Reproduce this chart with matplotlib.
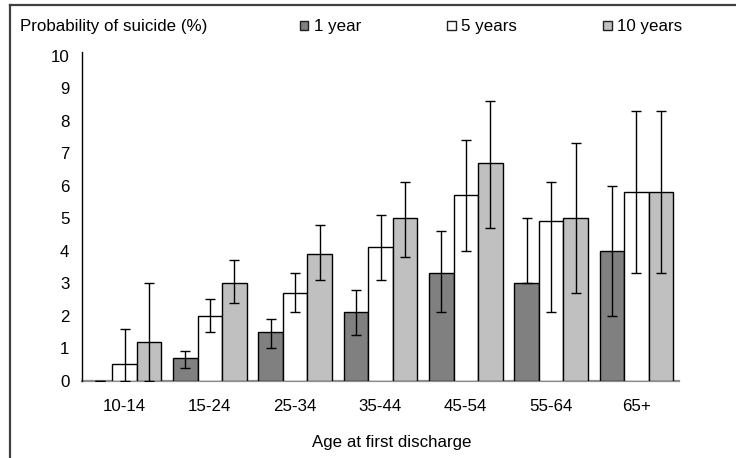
import matplotlib
matplotlib.use("Agg")
import matplotlib.pyplot as plt
from matplotlib.lines import Line2D
from matplotlib.patches import Patch
import numpy as np

plt.rcParams["font.family"] = ["Liberation Sans", "DejaVu Sans"]

# Age groups at first discharge
age_groups = ["10-14", "15-24", "25-34", "35-44", "45-54", "55-64", "65+"]

# Cumulative probability of suicide (%) by follow-up time
year1 = [0.0, 0.7, 1.5, 2.1, 3.3, 3.0, 4.0]
year5 = [0.5, 2.0, 2.7, 4.1, 5.7, 4.9, 5.8]
year10 = [1.2, 3.0, 3.9, 5.0, 6.7, 5.0, 5.8]

# 95% confidence limits (lower, upper)
year1_lo = [0.0, 0.4, 1.0, 1.4, 2.1, 3.0, 2.0]
year1_hi = [0.0, 0.9, 1.9, 2.8, 4.6, 5.0, 6.0]
year5_lo = [0.0, 1.5, 2.1, 3.1, 4.0, 2.1, 3.3]
year5_hi = [1.6, 2.5, 3.3, 5.1, 7.4, 6.1, 8.3]
year10_lo = [0.0, 2.4, 3.1, 3.8, 4.7, 2.7, 3.3]
year10_hi = [3.0, 3.7, 4.8, 6.1, 8.6, 7.3, 8.3]

series = [
    ("1 year", year1, year1_lo, year1_hi, "#808080"),
    ("5 years", year5, year5_lo, year5_hi, "#ffffff"),
    ("10 years", year10, year10_lo, year10_hi, "#c0c0c0"),
]

FS = 12.2
W, H = 736, 458
fig = plt.figure(figsize=(W / 100, H / 100), dpi=100)
ax = fig.add_axes([82 / W, 1 - 380.7 / H, 597 / W, 325 / H])

x = np.arange(len(age_groups))
width = 0.287
handles = []
for i, (label, vals, lo, hi, color) in enumerate(series):
    pos = x + (i - 1) * width
    vals = np.array(vals)
    bars = ax.bar(pos, vals, width, color=color, edgecolor="black",
                  linewidth=1.0, zorder=2)
    for b, v in zip(bars, vals):
        if v <= 0:
            b.set_visible(False)
    err = np.vstack([vals - np.array(lo), np.array(hi) - vals])
    ax.errorbar(pos, vals, yerr=err, fmt="none", ecolor="black",
                elinewidth=1.0, capsize=3.6, capthick=1.0, zorder=3)
    handles.append(Patch(facecolor=color, edgecolor="#202020",
                         linewidth=1.0, label=label))

ax.set_xlim(-0.5, len(age_groups) - 0.5)
ax.set_ylim(0, 10)
ax.set_yticks(range(0, 11))
ax.set_xticks(x)
ax.set_xticklabels(age_groups)
ax.tick_params(axis="both", length=0, labelsize=FS)
ax.tick_params(axis="x", pad=13)
ax.tick_params(axis="y", pad=9)

for side in ("top", "right"):
    ax.spines[side].set_visible(False)
ax.spines["left"].set_color("black")
ax.spines["left"].set_linewidth(1.0)
ax.spines["left"].set_bounds(0, 10.1)
ax.spines["bottom"].set_color("#8c8c8c")
ax.spines["bottom"].set_linewidth(1.6)
ax.spines["bottom"].set_zorder(1)
ax.set_clip_on(False)

fig.text(20 / W, 1 - 27 / H, "Probability of suicide (%)", fontsize=FS,
         ha="left", va="center")
fig.text(392 / W, 1 - 443 / H, "Age at first discharge", fontsize=FS,
         ha="center", va="center")

fig.legend(handles=handles, ncol=3,
           loc="center left", bbox_to_anchor=(300 / W, 1 - 27 / H),
           frameon=False, fontsize=FS, handlelength=0.5,
           handleheight=0.5, handletextpad=0.3, columnspacing=5.1,
           borderpad=0, borderaxespad=0)

# Outer chart border (left and top edges)
fig.add_artist(Line2D([10 / W, 10 / W], [0, 1 - 5 / H], color="#404040",
                      linewidth=1.6, transform=fig.transFigure))
fig.add_artist(Line2D([10 / W, 1], [1 - 5 / H, 1 - 5 / H], color="#404040",
                      linewidth=1.6, transform=fig.transFigure))

fig.savefig("out.png", dpi=100)
